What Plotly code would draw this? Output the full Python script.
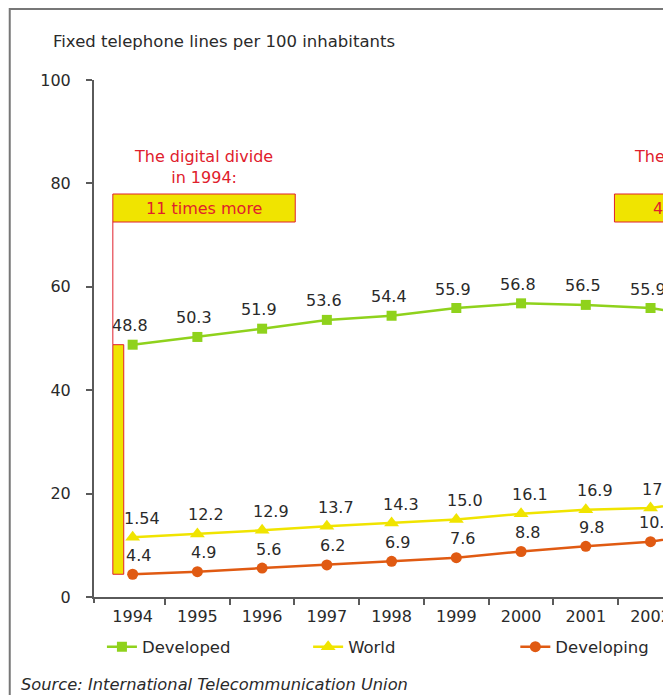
import plotly.graph_objects as go

# values (2003 is cut off on the right, only its line stub shows)
years = [1994, 1995, 1996, 1997, 1998, 1999, 2000, 2001, 2002, 2003]
year_ticks = [1994, 1995, 1996, 1997, 1998, 1999, 2000, 2001, 2002]
developed = [48.8, 50.3, 51.9, 53.6, 54.4, 55.9, 56.8, 56.5, 55.9, 54.0]
world = [11.54, 12.2, 12.9, 13.7, 14.3, 15.0, 16.1, 16.9, 17.2, 19.0]
world_labels = ['1.54', '12.2', '12.9', '13.7', '14.3', '15.0', '16.1', '16.9', '17.2', '19.0']
developing = [4.4, 4.9, 5.6, 6.2, 6.9, 7.6, 8.8, 9.8, 10.7, 12.6]

GREEN = '#8fd21c'
YELLOW = '#f0e400'
ORANGE = '#e05a12'
RED = '#e0202c'
TXT = '#2a2a2a'
AXIS = '#5a5a5a'
FONT = 'DejaVu Sans'

# the page body has an 8px margin, so the figure starts at (8, 8) of the window
OFF = 8
W, H = 671 - OFF, 695 - OFF
L, T = 94 - OFF, 80 - OFF
B = H - (597 - OFF)
PW, PH = W - L, H - T - B


# window pixel -> paper fraction
def px(x):
    return (x - OFF - L) / PW


def py(y):
    return (H - B - (y - OFF)) / PH


fig = go.Figure()

series = [
    ('Developed', developed, ['%.1f' % v for v in developed], GREEN, 'square', 10, -3, 'legend'),
    ('World', world, world_labels, YELLOW, 'triangle-up', 13, 9, 'legend2'),
    ('Developing', developing, ['%.1f' % v for v in developing], ORANGE, 'circle', 11, 6, 'legend3'),
]

for name, vals, labels, col, sym, msize, xs, leg in series:
    fig.add_trace(go.Scatter(
        x=years, y=vals, name=name, legend=leg,
        mode='lines+markers',
        line=dict(color=col, width=2.5),
        marker=dict(symbol=sym, size=msize, color=col),
    ))
    for yr, v, lab in zip(years, vals, labels):
        fig.add_annotation(x=yr, y=v, text=lab, showarrow=False,
                           xanchor='center', yanchor='middle', xshift=xs, yshift=19,
                           font=dict(family=FONT, size=16, color=TXT))

# digital divide 1994: box, connector and bracket
fig.add_shape(type='rect', xref='paper', yref='paper',
              x0=px(113), x1=px(297), y0=py(222), y1=py(194),
              fillcolor=YELLOW, line=dict(color=RED, width=1))
fig.add_shape(type='line', xref='paper', yref='y',
              x0=px(113), x1=px(113), y0=developed[0], y1=py(222) * 100,
              line=dict(color=RED, width=1))
fig.add_shape(type='rect', xref='paper', yref='y',
              x0=px(113), x1=px(124), y0=developing[0], y1=developed[0],
              fillcolor=YELLOW, line=dict(color=RED, width=1))
fig.add_annotation(xref='paper', yref='paper', x=px(204), y=py(167),
                   xanchor='center', yanchor='middle',
                   text='The digital divide<br>in 1994:', showarrow=False,
                   font=dict(family=FONT, size=16, color=RED), align='center')
fig.add_annotation(xref='paper', yref='paper', x=px(205), y=py(208),
                   xanchor='center', yanchor='middle',
                   text='11 times more', showarrow=False,
                   font=dict(family=FONT, size=16, color=RED))

# digital divide 2003 (cut off by the right edge)
fig.add_shape(type='rect', xref='paper', yref='paper',
              x0=px(619), x1=px(803), y0=py(222), y1=py(194),
              fillcolor=YELLOW, line=dict(color=RED, width=1))
fig.add_annotation(xref='paper', yref='paper', x=px(709), y=py(167),
                   xanchor='center', yanchor='middle',
                   text='The digital divide<br>in 2003:', showarrow=False,
                   font=dict(family=FONT, size=16, color=RED), align='center')
fig.add_annotation(xref='paper', yref='paper', x=px(711), y=py(208),
                   xanchor='center', yanchor='middle',
                   text='4 times more', showarrow=False,
                   font=dict(family=FONT, size=16, color=RED))

# outer frame (left and top edges only are visible)
fig.add_shape(type='path', xref='paper', yref='paper',
              path='M %f,%f L %f,%f L %f,%f' % (px(9), py(720), px(9), py(9), px(700), py(9)),
              line=dict(color='#777777', width=2))
# small stub of the y axis below zero
fig.add_shape(type='line', xref='paper', yref='paper',
              x0=0, x1=0, y0=0, y1=py(603), line=dict(color=AXIS, width=2))

fig.add_annotation(xref='paper', yref='paper', x=px(51), y=py(42),
                   xanchor='left', yanchor='middle', showarrow=False,
                   text='Fixed telephone lines per 100 inhabitants',
                   font=dict(family=FONT, size=16.5, color=TXT))
fig.add_annotation(xref='paper', yref='paper', x=px(-6), y=py(10),
                   xanchor='left', yanchor='bottom', showarrow=False,
                   text='Figure 1', font=dict(family=FONT, size=16, color=TXT))
fig.add_annotation(xref='paper', yref='paper', x=px(18), y=py(684),
                   xanchor='left', yanchor='middle', showarrow=False,
                   text='<i>Source: International Telecommunication Union</i>',
                   font=dict(family=FONT, size=16.3, color=TXT))

leg_style = dict(orientation='h', xanchor='left', yanchor='middle', y=py(647),
                 font=dict(family=FONT, size=16.5, color=TXT), bgcolor='rgba(0,0,0,0)')
fig.update_layout(
    width=W, height=H,
    margin=dict(l=L, r=0, t=T, b=B, pad=0),
    paper_bgcolor='white', plot_bgcolor='white',
    font=dict(family=FONT, color=TXT),
    showlegend=True,
    legend=dict(x=px(102), **leg_style),
    legend2=dict(x=px(310), **leg_style),
    legend3=dict(x=px(519), **leg_style),
)
fig.update_xaxes(
    range=[1993.403, 2002.239], showgrid=False, zeroline=False,
    showline=True, linecolor=AXIS, linewidth=2,
    tickmode='array', tickvals=year_ticks, ticks='', ticklabelstandoff=4,
    ticklabeloverflow='allow',
    tickfont=dict(family=FONT, size=16, color=TXT),
    minor=dict(tickmode='array', tickvals=[y + 0.5 for y in year_ticks],
               ticks='outside', ticklen=6, tickcolor=AXIS, tickwidth=1.5, showgrid=False),
)
fig.update_yaxes(
    range=[0, 100], dtick=20, showgrid=False, zeroline=False,
    showline=True, linecolor=AXIS, linewidth=2,
    ticks='outside', ticklen=6, tickcolor=AXIS, tickwidth=1.5, ticklabelstandoff=12,
    tickfont=dict(family=FONT, size=16, color=TXT),
)

fig.write_html('out.html')
